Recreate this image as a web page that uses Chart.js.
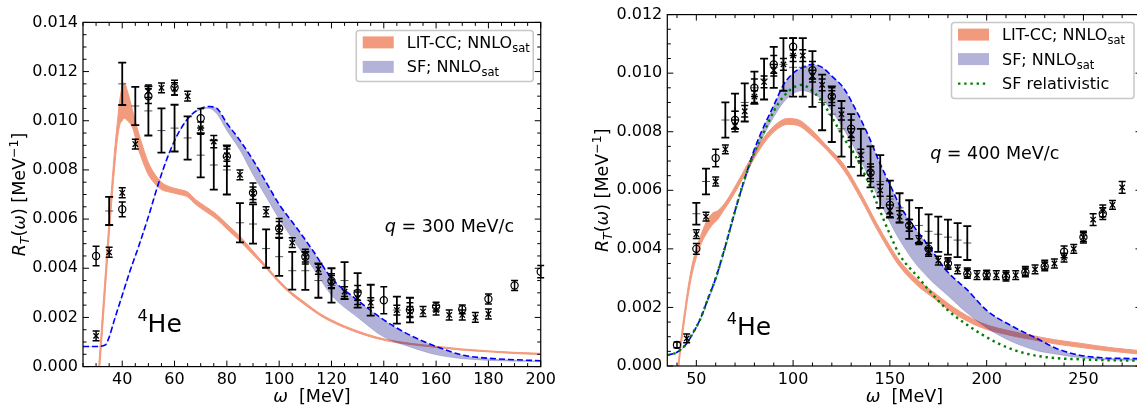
<!DOCTYPE html>
<html>
<head>
<meta charset="utf-8">
<script src="https://cdn.jsdelivr.net/npm/chart.js@4.4.1/dist/chart.umd.min.js"></script>
<style>
  html, body { margin: 0; padding: 0; background: #fff; width: 1137px; height: 411px; overflow: hidden; position: relative; }
  canvas { position: absolute; top: 0; }
  #left { left: 0; }
  #right { left: 560px; }
</style>
</head>
<body>
<canvas id="left" width="560" height="411"></canvas>
<canvas id="right" width="600" height="411"></canvas>
<script>
// ---------- left panel, q = 300 MeV/c ----------
var xTicksL = [40, 60, 80, 100, 120, 140, 160, 180, 200];
var yTicksL = [0, 0.002, 0.004, 0.006, 0.008, 0.010, 0.012, 0.014];

// LIT-CC band
var litL_w  = [31, 32, 33, 34, 35, 36, 37, 38, 39, 40, 40.7, 42, 44, 46, 48, 50, 52, 55, 58, 62, 65, 68, 72, 76, 80, 85, 90, 95, 100, 105, 110, 115, 120, 130, 140, 150, 160, 170, 180, 190, 200];
var litL_hi = [0, 0.0015, 0.003, 0.0045, 0.006, 0.0074, 0.0087, 0.0098, 0.0108, 0.0114, 0.01155, 0.0112, 0.0104, 0.0096, 0.0089, 0.0083, 0.0079, 0.0075, 0.00732, 0.0072, 0.0071, 0.0068, 0.0065, 0.0062, 0.0058, 0.0053, 0.0047, 0.0041, 0.0035, 0.0030, 0.0026, 0.0022, 0.0019, 0.00145, 0.00113, 0.00095, 0.00083, 0.00072, 0.00064, 0.00058, 0.00054];
var litL_lo = [-0.0006, 0.0008, 0.0023, 0.0038, 0.0053, 0.0067, 0.0080, 0.0091, 0.0098, 0.0100, 0.0101, 0.0100, 0.0097, 0.0089, 0.0083, 0.0078, 0.0075, 0.0072, 0.0071, 0.0070, 0.0069, 0.0066, 0.0063, 0.0060, 0.0056, 0.0051, 0.00455, 0.0040, 0.0034, 0.0029, 0.0025, 0.00212, 0.00182, 0.00138, 0.00107, 0.0009, 0.00078, 0.00067, 0.0006, 0.00053, 0.00049];

// SF band (upper edge = dashed line)
var sfL_w  = [25, 30, 33.5, 35, 37, 40, 43, 46, 50, 54, 58, 62, 66, 70, 73, 76, 80, 85, 90, 95, 100, 107, 113, 120, 130, 140, 150, 160, 170, 180, 190, 200];
var sfL_hi = [0.00082, 0.00082, 0.00088, 0.0012, 0.0019, 0.0029, 0.0039, 0.0048, 0.0061, 0.0075, 0.0087, 0.0096, 0.0102, 0.0105, 0.01058, 0.01052, 0.0099, 0.0092, 0.0084, 0.0075, 0.0066, 0.0056, 0.0047, 0.0036, 0.0027, 0.0019, 0.00128, 0.00082, 0.00047, 0.00034, 0.00028, 0.00024];
var sfL_lo = [0.00081, 0.00081, 0.00087, 0.00118, 0.00188, 0.00288, 0.00388, 0.00478, 0.00608, 0.00748, 0.00868, 0.00958, 0.01018, 0.01045, 0.0105, 0.0103, 0.0096, 0.0088, 0.0078, 0.0069, 0.0060, 0.0049, 0.0040, 0.0029, 0.0020, 0.0012, 0.0008, 0.00048, 0.00032, 0.00025, 0.00022, 0.0002];

// data: open circles
var expL_o_w = [30, 40, 50, 60, 70, 80, 90, 100, 110, 120, 130, 140, 150, 160, 170, 180, 190, 200];
var expL_o_R = [0.0045, 0.0064, 0.0110, 0.01135, 0.0101, 0.00855, 0.00707, 0.00562, 0.00447, 0.00348, 0.0030, 0.0027, 0.0023, 0.00244, 0.00233, 0.00275, 0.0033, 0.00386];
var expL_o_e = [0.0004, 0.0003, 0.0003, 0.0003, 0.0004, 0.0004, 0.0004, 0.0004, 0.0003, 0.0003, 0.0003, 0.00055, 0.0003, 0.00018, 0.00018, 0.0002, 0.0002, 0.00025];
// data: crosses
var expL_x_w = [30, 35, 40, 45, 50, 55, 60, 65, 70, 75, 80, 85, 90, 95, 100, 105, 110, 115, 120, 125, 130, 135, 145, 150, 155, 160, 165, 170, 175, 180];
var expL_x_R = [0.00125, 0.00465, 0.00707, 0.00905, 0.0112, 0.01134, 0.0113, 0.0110, 0.0097, 0.00915, 0.0086, 0.0078, 0.00705, 0.0063, 0.00565, 0.00504, 0.00445, 0.00396, 0.00346, 0.00305, 0.00278, 0.0026, 0.0023, 0.00224, 0.00224, 0.0023, 0.0021, 0.0021, 0.0020, 0.00214];
var expL_x_e = [0.0002, 0.0002, 0.0002, 0.0002, 0.00025, 0.0002, 0.00025, 0.0002, 0.00025, 0.00025, 0.00025, 0.0002, 0.00025, 0.0002, 0.00025, 0.0002, 0.0002, 0.0002, 0.00025, 0.0002, 0.00025, 0.0002, 0.0002, 0.0002, 0.0002, 0.0002, 0.0002, 0.0002, 0.0002, 0.0002];
// data: plus, large errors
var expL_p_w = [35, 40, 45, 50, 55, 60, 65, 70, 75, 80, 85, 90, 95, 100, 105, 110, 115, 120, 125, 130, 135, 145, 150];
var expL_p_R = [0.00633, 0.0115, 0.0106, 0.0104, 0.0096, 0.0097, 0.0093, 0.0086, 0.0082, 0.0080, 0.00585, 0.0058, 0.0048, 0.00447, 0.0039, 0.0039, 0.0035, 0.0033, 0.0035, 0.0031, 0.0027, 0.0023, 0.0023];
var expL_p_e = [0.00057, 0.00086, 0.00078, 0.001, 0.0009, 0.00095, 0.00088, 0.0009, 0.001, 0.001, 0.0008, 0.0008, 0.00078, 0.00078, 0.00077, 0.00078, 0.0007, 0.0007, 0.00075, 0.0007, 0.00063, 0.00055, 0.0005];

// ---------- right panel, q = 400 MeV/c ----------
var xTicksR = [50, 100, 150, 200, 250];
var yTicksR = [0, 0.002, 0.004, 0.006, 0.008, 0.010, 0.012];

var litR_w  = [40.5, 42, 44, 46, 48, 50, 52, 55, 58, 61, 64, 68, 74, 80, 86, 92, 97, 103, 109, 117, 126, 135, 143, 150, 155, 165, 171, 183, 197, 214, 222, 235, 248, 265, 280];
var litR_hi = [0, 0.0009, 0.0019, 0.0028, 0.0035, 0.0040, 0.0044, 0.0049, 0.0052, 0.0053, 0.0055, 0.0059, 0.0066, 0.0073, 0.0079, 0.0083, 0.00845, 0.0084, 0.0081, 0.00755, 0.0069, 0.0059, 0.0049, 0.0041, 0.0036, 0.0029, 0.0026, 0.0020, 0.00148, 0.00117, 0.00106, 0.0009, 0.00078, 0.00062, 0.00052];
var litR_lo = [-0.0003, 0.0006, 0.0016, 0.0025, 0.0032, 0.0037, 0.0041, 0.0045, 0.0048, 0.0050, 0.0053, 0.0057, 0.0064, 0.0071, 0.0077, 0.0081, 0.00825, 0.0082, 0.0079, 0.0074, 0.0067, 0.0057, 0.0047, 0.0039, 0.0034, 0.0027, 0.0024, 0.0018, 0.00132, 0.00102, 0.00092, 0.00076, 0.00064, 0.0005, 0.0004];

var sfR_w  = [35, 40, 45, 48, 52, 56, 60, 65, 70, 75, 80, 85, 90, 95, 100, 105, 110, 115, 120, 126, 132, 138, 145, 150, 155, 162, 170, 180, 190, 200, 214, 226, 236, 248, 260, 270, 280];
var sfR_hi = [0.00037, 0.00047, 0.00077, 0.0011, 0.0016, 0.0023, 0.0030, 0.0041, 0.0053, 0.0064, 0.0074, 0.0082, 0.0089, 0.0096, 0.0100, 0.0102, 0.0103, 0.0102, 0.0099, 0.0095, 0.0088, 0.0080, 0.0069, 0.0062, 0.0055, 0.0048, 0.0041, 0.0032, 0.0026, 0.0019, 0.00133, 0.00094, 0.0006, 0.00037, 0.00028, 0.00026, 0.00025];
var sfR_lo = [0.00035, 0.00045, 0.00074, 0.00105, 0.00155, 0.0022, 0.0029, 0.0040, 0.0052, 0.0063, 0.0072, 0.0079, 0.0085, 0.0090, 0.0093, 0.0094, 0.0093, 0.0091, 0.0087, 0.0081, 0.0074, 0.0066, 0.0056, 0.0049, 0.0043, 0.0036, 0.0030, 0.0024, 0.0018, 0.0013, 0.0008, 0.00052, 0.0004, 0.00028, 0.00022, 0.0002, 0.0002];

var relR_w = [35, 40, 45, 48, 52, 56, 60, 65, 70, 75, 80, 85, 90, 95, 100, 104, 108, 114, 120, 126, 132, 138, 143, 150, 155, 165, 170, 180, 190, 197, 205, 214, 222, 231, 240, 248, 260, 270, 280];
var relR_R = [0.00037, 0.00047, 0.00077, 0.0011, 0.0016, 0.0023, 0.0030, 0.0041, 0.0053, 0.0064, 0.0073, 0.0080, 0.0087, 0.0092, 0.0095, 0.0096, 0.0095, 0.0091, 0.0085, 0.0078, 0.0072, 0.0064, 0.0056, 0.0045, 0.0038, 0.0030, 0.0026, 0.0019, 0.0014, 0.0011, 0.0008, 0.00055, 0.0004, 0.0003, 0.00025, 0.00023, 0.0002, 0.00019, 0.00018];

var expR_o_w = [40, 50, 60, 70, 80, 90, 100, 110, 120, 130, 140, 150, 160, 170, 180, 190, 200, 210, 220, 230, 240, 250, 260];
var expR_o_R = [0.00072, 0.0040, 0.0071, 0.0084, 0.0095, 0.0103, 0.0109, 0.0101, 0.0092, 0.0081, 0.0066, 0.0055, 0.0048, 0.0040, 0.0035, 0.00315, 0.00312, 0.00305, 0.0032, 0.0034, 0.0039, 0.0044, 0.0052];
var expR_o_e = [0.0001, 0.00018, 0.0003, 0.0003, 0.0003, 0.0003, 0.0003, 0.0003, 0.0003, 0.0003, 0.0003, 0.0003, 0.0002, 0.0002, 0.0002, 0.00015, 0.00015, 0.00015, 0.00015, 0.00015, 0.0002, 0.0002, 0.0002];

var expR_x_w = [45, 50, 55, 60, 65, 70, 75, 80, 85, 90, 95, 100, 105, 110, 115, 120, 125, 130, 135, 140, 145, 150, 155, 160, 165, 170, 175, 180, 185, 190, 195, 200, 205, 210, 215, 220, 225, 230, 235, 240, 245, 250, 255, 260, 265, 270];
var expR_x_R = [0.00094, 0.0045, 0.0051, 0.0063, 0.0074, 0.0082, 0.0087, 0.0092, 0.0097, 0.0101, 0.0103, 0.0106, 0.0106, 0.0099, 0.0096, 0.0092, 0.0086, 0.0079, 0.0072, 0.0066, 0.0060, 0.0053, 0.0051, 0.0048, 0.0043, 0.0039, 0.0036, 0.0035, 0.0033, 0.0032, 0.0031, 0.0031, 0.0031, 0.0031, 0.0031, 0.00325, 0.0033, 0.00346, 0.0035, 0.0037, 0.0040, 0.0044, 0.0050, 0.0053, 0.0055, 0.0061];
var expR_x_e = [0.00015, 0.00015, 0.00015, 0.00015, 0.00015, 0.0002, 0.0002, 0.0002, 0.0002, 0.0002, 0.0002, 0.0002, 0.0002, 0.0002, 0.0002, 0.0002, 0.0002, 0.0002, 0.0002, 0.0002, 0.0002, 0.0002, 0.0002, 0.0002, 0.00015, 0.00015, 0.00015, 0.00015, 0.00015, 0.00015, 0.00015, 0.00015, 0.00015, 0.00015, 0.00015, 0.00015, 0.00015, 0.00015, 0.00015, 0.00015, 0.00015, 0.00015, 0.0002, 0.0002, 0.00015, 0.0002];

var expR_p_w = [50, 55, 65, 70, 75, 80, 85, 90, 95, 100, 105, 110, 115, 120, 125, 130, 135, 140, 145, 150, 155, 160, 165, 170, 175, 180, 185, 190];
var expR_p_R = [0.0052, 0.0063, 0.0084, 0.0087, 0.0090, 0.0095, 0.0098, 0.0102, 0.0103, 0.0102, 0.0102, 0.0098, 0.0090, 0.0086, 0.0081, 0.0077, 0.0073, 0.0068, 0.0063, 0.0057, 0.0054, 0.0050, 0.0048, 0.0046, 0.0045, 0.0044, 0.0043, 0.0042];
var expR_p_e = [0.00037, 0.00044, 0.0006, 0.0006, 0.00065, 0.00055, 0.0007, 0.0007, 0.0009, 0.001, 0.001, 0.00095, 0.00095, 0.00095, 0.00095, 0.0009, 0.0008, 0.0007, 0.0009, 0.00063, 0.0005, 0.00066, 0.0006, 0.00058, 0.0006, 0.0006, 0.00058, 0.00058];

// ---------- styling ----------
var FAM = '"DejaVu Sans", sans-serif';
var SALMON = 'rgb(242,154,125)';
var LAVENDER = 'rgba(0,0,128,0.3)';
var BLUE = 'rgb(0,0,255)';
var GREEN = 'rgb(0,128,0)';

function fnt(sz, it){ return (it ? 'italic ' : '') + sz + 'px ' + FAM; }
function pts(w, r){ return w.map(function(v, i){ return {x: v, y: r[i]}; }); }

// parts: [text, size, italic, dy]
function rich(ctx, parts, x, y, align){
  var w = 0;
  parts.forEach(function(p){ ctx.font = fnt(p[1], p[2]); w += ctx.measureText(p[0]).width; });
  var cx = align == 'center' ? x - w / 2 : x;
  ctx.textAlign = 'left'; ctx.textBaseline = 'alphabetic';
  parts.forEach(function(p){
    ctx.font = fnt(p[1], p[2]);
    ctx.fillText(p[0], cx, y + (p[3] || 0));
    cx += ctx.measureText(p[0]).width;
  });
}

// error bars read from dataset.errs, through the chart's y scale
var errorBars = {
  id: 'errorBars',
  afterDatasetsDraw: function(chart){
    var ctx = chart.ctx, a = chart.chartArea, ys = chart.scales.y;
    ctx.save();
    ctx.beginPath(); ctx.rect(a.left - 4, a.top, a.right - a.left + 8, a.bottom - a.top); ctx.clip();
    chart.data.datasets.forEach(function(ds, i){
      if(!ds.errs) return;
      var meta = chart.getDatasetMeta(i);
      ctx.strokeStyle = '#000'; ctx.lineWidth = ds.errW;
      meta.data.forEach(function(pt, j){
        var v = ds.data[j].y, e = ds.errs[j];
        var y1 = ys.getPixelForValue(v + e), y2 = ys.getPixelForValue(v - e), c = ds.capW;
        ctx.beginPath();
        ctx.moveTo(pt.x, y1); ctx.lineTo(pt.x, y2);
        ctx.moveTo(pt.x - c, y1); ctx.lineTo(pt.x + c, y1);
        ctx.moveTo(pt.x - c, y2); ctx.lineTo(pt.x + c, y2);
        ctx.stroke();
      });
    });
    ctx.restore();
  }
};

// frame, inward ticks on all sides, titles, annotations and legend
var panelDeco = {
  id: 'panelDeco',
  afterDraw: function(chart, args, o){
    var ctx = chart.ctx, a = chart.chartArea, xs = chart.scales.x, ys = chart.scales.y;
    ctx.save();
    ctx.strokeStyle = '#000'; ctx.lineWidth = 1.2;
    ctx.strokeRect(a.left, a.top, a.right - a.left, a.bottom - a.top);
    ctx.lineWidth = 1;
    function isMajor(v, list, st){ return list.some(function(t){ return Math.abs(t - v) < st / 10; }); }
    var v, p, L;
    for(v = Math.ceil(xs.min / o.xMinor) * o.xMinor; v <= xs.max + 1e-9; v += o.xMinor){
      p = xs.getPixelForValue(v); L = isMajor(v, o.xTicks, o.xMinor) ? 6 : 3.5;
      ctx.beginPath(); ctx.moveTo(p, a.bottom); ctx.lineTo(p, a.bottom - L);
      ctx.moveTo(p, a.top); ctx.lineTo(p, a.top + L); ctx.stroke();
    }
    for(v = 0; v <= ys.max + 1e-12; v += o.yMinor){
      p = ys.getPixelForValue(v); L = isMajor(v, o.yTicks, o.yMinor) ? 6 : 3.5;
      ctx.beginPath(); ctx.moveTo(a.left, p); ctx.lineTo(a.left + L, p);
      ctx.moveTo(a.right, p); ctx.lineTo(a.right - L, p); ctx.stroke();
    }
    ctx.fillStyle = '#000';
    // axis titles
    rich(ctx, [['ω', 17.5, true], ['  [MeV]', 17.5]], (a.left + a.right) / 2, 402, 'center');
    ctx.save();
    ctx.translate(o.yTitleX, (a.top + a.bottom) / 2); ctx.rotate(-Math.PI / 2);
    rich(ctx, [['R', 17.5, true], ['T', 12.5, true, 4], ['(', 17.5], ['ω', 17.5, true], [') [MeV', 17.5], ['−1', 12.5, false, -7], [']', 17.5]], 0, 0, 'center');
    ctx.restore();
    // annotations placed in data coordinates
    rich(ctx, [['q', 17.5, true], [' = ' + o.q + ' MeV/c', 17.5]], xs.getPixelForValue(o.qAt[0]), ys.getPixelForValue(o.qAt[1]), 'left');
    rich(ctx, [['4', 16, false, -11], ['He', 25]], xs.getPixelForValue(o.heAt[0]), ys.getPixelForValue(o.heAt[1]), 'left');
    // legend box at top right of the axes
    var bx = a.right - 7.5 - o.legW, by = a.top + 8;
    ctx.fillStyle = 'rgba(255,255,255,0.85)'; ctx.strokeStyle = '#c8c8c8'; ctx.lineWidth = 1.5;
    ctx.beginPath();
    if(ctx.roundRect) ctx.roundRect(bx, by, o.legW, o.legH, 3); else ctx.rect(bx, by, o.legW, o.legH);
    ctx.fill(); ctx.stroke();
    o.items.forEach(function(it, k){
      var cy = by + 12 + k * 24.5, px = bx + 6.5;
      if(it.kind == 'patch'){
        ctx.fillStyle = it.color; ctx.fillRect(px, cy - 6, 31, 12);
      }else{
        ctx.strokeStyle = it.color; ctx.lineWidth = 2.4; ctx.setLineDash([2.4, 3.8]);
        ctx.beginPath(); ctx.moveTo(px, cy); ctx.lineTo(px + 31, cy); ctx.stroke(); ctx.setLineDash([]);
      }
      ctx.fillStyle = '#000';
      rich(ctx, it.text, px + 44, cy + 5.5, 'left');
    });
    ctx.restore();
  }
};

function curve(w, r, extra){
  return Object.assign({ type: 'line', data: pts(w, r), showLine: true, pointRadius: 0, fill: false,
    borderWidth: 1, cubicInterpolationMode: 'monotone' }, extra);
}
function marks(w, r, e, extra){
  return Object.assign({ type: 'scatter', data: pts(w, r), errs: e, showLine: false, order: 1,
    borderColor: '#000', backgroundColor: 'rgba(0,0,0,0)', errW: 1.5, capW: 3.5 }, extra);
}

var litLabel = [['LIT-CC; NNLO', 16], ['sat', 11.5, false, 4]];
var sfLabel  = [['SF; NNLO', 16], ['sat', 11.5, false, 4]];

function panel(id, p){
  var ds = [
    curve(p.lit_w, p.lit_hi, { borderColor: SALMON, order: 20 }),
    curve(p.lit_w, p.lit_lo, { borderColor: SALMON, backgroundColor: SALMON, fill: '-1', order: 19 }),
    curve(p.sf_w, p.sf_hi, { borderColor: 'rgba(0,0,0,0)', borderWidth: 0, order: 18 }),
    curve(p.sf_w, p.sf_lo, { borderColor: 'rgba(0,0,128,0.15)', backgroundColor: LAVENDER, fill: '-1', order: 17 }),
    curve(p.sf_w, p.sf_hi, { borderColor: BLUE, borderWidth: 1.6, borderDash: [6, 3], order: 10 })
  ];
  if(p.rel_w) ds.push(curve(p.rel_w, p.rel_R, { borderColor: GREEN, borderWidth: 2.4, borderDash: [2.4, 3.8], order: 9 }));
  ds.push(marks(p.o_w, p.o_R, p.o_e, { pointStyle: 'circle', pointRadius: 3.6, borderWidth: 1.2 }));
  ds.push(marks(p.x_w, p.x_R, p.x_e, { pointStyle: 'crossRot', pointRadius: 3.8, borderWidth: 1.3 }));
  ds.push(marks(p.p_w, p.p_R, p.p_e, { pointStyle: 'cross', pointRadius: 4, borderWidth: 1, borderColor: '#555', errW: 1.8, capW: 4 }));

  return new Chart(document.getElementById(id), {
    type: 'scatter',
    data: { datasets: ds },
    options: {
      responsive: false, animation: false, events: [],
      layout: { padding: { left: 0, right: p.padR, top: p.padT, bottom: 0 } },
      plugins: { legend: { display: false }, tooltip: { enabled: false }, panelDeco: p.deco },
      scales: {
        x: {
          type: 'linear', min: p.xMin, max: p.xMax,
          grid: { display: false, drawTicks: false }, border: { display: false },
          ticks: { color: '#000', font: { family: FAM, size: 16 }, padding: 4, maxRotation: 0, autoSkip: false,
                   callback: function(v){ return String(v); } },
          afterBuildTicks: function(s){ s.ticks = p.xTicks.map(function(v){ return { value: v }; }); },
          afterFit: function(s){ s.height = p.xH; }
        },
        y: {
          type: 'linear', min: 0, max: p.yMax,
          grid: { display: false, drawTicks: false }, border: { display: false },
          ticks: { color: '#000', font: { family: FAM, size: 16 }, padding: 5, autoSkip: false,
                   callback: function(v){ return v.toFixed(3); } },
          afterBuildTicks: function(s){ s.ticks = p.yTicks.map(function(v){ return { value: v }; }); },
          afterFit: function(s){ s.width = p.yW; }
        }
      }
    },
    plugins: [errorBars, panelDeco]
  });
}

panel('left', {
  xMin: 25, xMax: 200, yMax: 0.014, xTicks: xTicksL, yTicks: yTicksL,
  padR: 14.5, padT: 22.4, xH: 44.4, yW: 83,
  lit_w: litL_w, lit_hi: litL_hi, lit_lo: litL_lo,
  sf_w: sfL_w, sf_hi: sfL_hi, sf_lo: sfL_lo,
  o_w: expL_o_w, o_R: expL_o_R, o_e: expL_o_e,
  x_w: expL_x_w, x_R: expL_x_R, x_e: expL_x_e,
  p_w: expL_p_w, p_R: expL_p_R, p_e: expL_p_e,
  deco: { xTicks: xTicksL, yTicks: yTicksL, xMinor: 5, yMinor: 0.0005, yTitleX: 25,
          q: '300', qAt: [140.4, 0.00547], heAt: [45.8, 0.00142], legW: 177, legH: 51,
          items: [{ kind: 'patch', color: SALMON, text: litLabel }, { kind: 'patch', color: 'rgb(179,179,217)', text: sfLabel }] }
});

panel('right', {
  xMin: 35, xMax: 280, yMax: 0.012, xTicks: xTicksR, yTicks: yTicksR,
  padR: 18.5, padT: 12, xH: 45, yW: 107.3,
  lit_w: litR_w, lit_hi: litR_hi, lit_lo: litR_lo,
  sf_w: sfR_w, sf_hi: sfR_hi, sf_lo: sfR_lo,
  rel_w: relR_w, rel_R: relR_R,
  o_w: expR_o_w, o_R: expR_o_R, o_e: expR_o_e,
  x_w: expR_x_w, x_R: expR_x_R, x_e: expR_x_e,
  p_w: expR_p_w, p_R: expR_p_R, p_e: expR_p_e,
  deco: { xTicks: xTicksR, yTicks: yTicksR, xMinor: 10, yMinor: 0.0005, yTitleX: 48,
          q: '400', qAt: [170.8, 0.00708], heAt: [65.7, 0.00105], legW: 182.5, legH: 76,
          items: [{ kind: 'patch', color: SALMON, text: litLabel }, { kind: 'patch', color: 'rgb(179,179,217)', text: sfLabel },
                  { kind: 'line', color: GREEN, text: [['SF relativistic', 16]] }] }
});
</script>
</body>
</html>
